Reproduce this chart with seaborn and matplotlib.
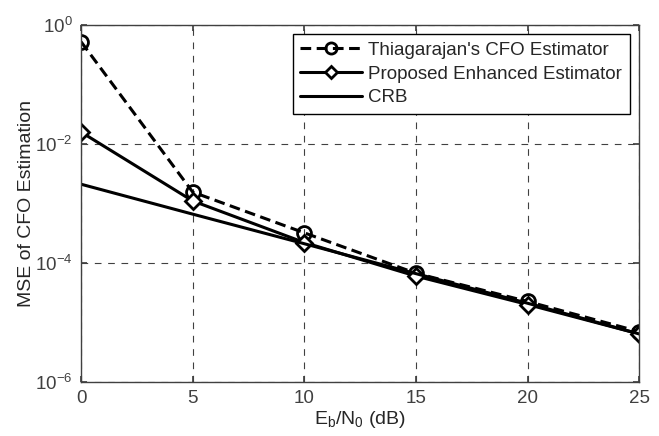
#! /usr/bin/env python
import matplotlib
matplotlib.use("Agg")
import matplotlib.pyplot as plt
import numpy as np
import pandas as pd
import seaborn as sns

# Eb/N0 in dB and MSE of the CFO estimate
snr_db = [0, 5, 10, 15, 20, 25]
thiagarajan = [0.52, 1.55e-3, 3.2e-4, 6.7e-5, 2.25e-5, 7.0e-6]
proposed = [1.58e-2, 1.1e-3, 2.2e-4, 6.0e-5, 2.0e-5, 6.4e-6]
crb = [2.1e-3, 6.6e-4, 2.1e-4, 6.6e-5, 2.1e-5, 6.4e-6]
labels = ["Thiagarajan's CFO Estimator", "Proposed Enhanced Estimator", "CRB"]


def main() -> None:
    sns.set_theme(style="ticks")
    plt.rcParams["font.family"] = ["Liberation Sans", "DejaVu Sans"]
    plt.rcParams["mathtext.fontset"] = "custom"
    plt.rcParams["mathtext.rm"] = "Liberation Sans"
    plt.rcParams["mathtext.it"] = "Liberation Sans"
    plt.rcParams["mathtext.bf"] = "Liberation Sans:bold"

    df = pd.DataFrame({"snr": snr_db, "thia": thiagarajan, "prop": proposed, "crb": crb})

    fig = plt.figure(figsize=(6.59, 4.36), dpi=100)
    ax = fig.add_axes([0.123, 0.124, 0.847, 0.819])

    sns.lineplot(data=df, x="snr", y="thia", ax=ax, color="black", lw=2.2,
                 linestyle=(0, (3.5, 1.8)), marker="o", markersize=10,
                 markerfacecolor="none", markeredgecolor="black",
                 markeredgewidth=2, label=labels[0])
    sns.lineplot(data=df, x="snr", y="prop", ax=ax, color="black", lw=2.2,
                 marker="D", markersize=8, markerfacecolor="white",
                 markeredgecolor="black", markeredgewidth=2, label=labels[1])
    sns.lineplot(data=df, x="snr", y="crb", ax=ax, color="black", lw=2.2,
                 label=labels[2])

    ax.set_yscale("log")
    ax.set_xlim(0, 25)
    ax.set_ylim(1e-6, 1)
    ax.set_xticks([0, 5, 10, 15, 20, 25])
    ax.set_yticks([1e-6, 1e-4, 1e-2, 1])
    ax.yaxis.set_minor_locator(matplotlib.ticker.NullLocator())
    ax.grid(True, color="#404040", linestyle=(0, (6, 6)), linewidth=0.8)
    ax.tick_params(direction="in", length=4, colors="#404040",
                   labelsize=13.5, labelcolor="#404040", top=True, right=True,
                   pad=6)
    for s in ax.spines.values():
        s.set_color("#404040")
        s.set_linewidth(1.0)

    ax.set_xlabel(r"E$_\mathregular{b}$/N$_\mathregular{0}$ (dB)", fontsize=14,
                  color="#262626", labelpad=1)
    ax.set_ylabel("MSE of CFO Estimation", fontsize=14, color="#262626", labelpad=0)

    leg = ax.legend(loc="upper right", fontsize=13.5, handlelength=3.3,
                    frameon=True, fancybox=False, borderaxespad=0.5,
                    labelspacing=0.35, handletextpad=0.35, borderpad=0.4,
                    markerscale=0.8)
    leg.get_frame().set_edgecolor("black")
    leg.get_frame().set_linewidth(1.0)
    leg.get_frame().set_alpha(1)

    fig.savefig("out.png", dpi=100)


if __name__ == "__main__":
    main()
